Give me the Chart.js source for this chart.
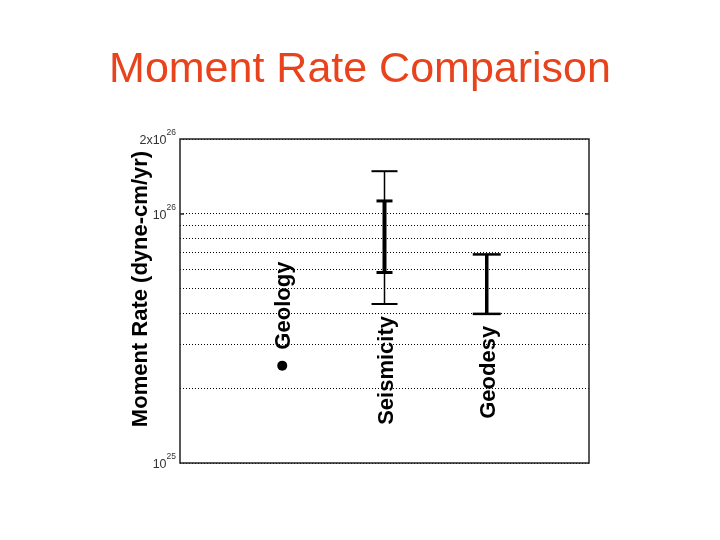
<!DOCTYPE html>
<html>
<head>
<meta charset="utf-8">
<script src="https://cdn.jsdelivr.net/npm/chart.js@4"></script>
<style>
  html, body { margin: 0; padding: 0; background: #fff; }
  #wrap { width: 720px; height: 540px; }
</style>
</head>
<body>
<div id="wrap"><canvas id="rate-chart"></canvas></div>
<script>
// values (dyne-cm/yr)
const categories = ['Geology', 'Seismicity', 'Geodesy'];
const geologyRate = [2.46e25];
const seismicityOuter = [4.35e25, 1.485e26];
const seismicityInner = [5.82e25, 1.128e26];
const geodesyRange = [3.97e25, 6.88e25];

const tickValues = [1e25, 1e26, 2e26];
const tickMantissa = ['', '', '2x'];
const tickExponents = ['25', '26', '26'];

const FONT = '"Liberation Sans", Arial, sans-serif';

// title, frame, small inside ticks, y tick labels with superscripts, axis title, category labels
const decorPlugin = {
  id: 'decor',
  afterDatasetsDraw(chart) {
    const ctx = chart.ctx;
    const a = chart.chartArea;
    const y = chart.scales.y;
    const x = chart.scales.x;
    ctx.save();

    ctx.fillStyle = '#E8431C';
    ctx.font = '43px ' + FONT;
    ctx.textAlign = 'center';
    ctx.textBaseline = 'alphabetic';
    ctx.fillText('Moment Rate Comparison', chart.width / 2, 82);

    ctx.strokeStyle = '#222';
    ctx.lineWidth = 1.5;
    ctx.strokeRect(a.left, a.top, a.right - a.left, a.bottom - a.top);
    const py26 = y.getPixelForValue(1e26);
    ctx.beginPath();
    ctx.moveTo(a.left, py26); ctx.lineTo(a.left + 4, py26);
    ctx.moveTo(a.right, py26); ctx.lineTo(a.right - 4, py26);
    ctx.stroke();

    // tick labels
    ctx.fillStyle = '#333';
    for (let i = 0; i < tickValues.length; i++) {
      const py = y.getPixelForValue(tickValues[i]);
      const right = a.left - 4;
      ctx.font = '8.5px ' + FONT;
      ctx.textAlign = 'right';
      ctx.fillText(tickExponents[i], right, py - 4);
      const ew = ctx.measureText(tickExponents[i]).width;
      ctx.font = '12.5px ' + FONT;
      ctx.fillText(tickMantissa[i] + '10', right - ew, py + 5);
    }

    // y axis title
    ctx.fillStyle = '#000';
    ctx.font = 'bold 22px ' + FONT;
    ctx.save();
    ctx.translate(147, (a.top + a.bottom) / 2 - 12);
    ctx.rotate(-Math.PI / 2);
    ctx.textAlign = 'center';
    ctx.fillText('Moment Rate (dyne-cm/yr)', 0, 0);
    ctx.restore();

    // category labels, vertical, next to their marks
    const lows = [geologyRate[0], seismicityOuter[0], geodesyRange[0]];
    for (let i = 0; i < categories.length; i++) {
      const px = x.getPixelForValue(i + 1);
      const pyLow = y.getPixelForValue(lows[i]);
      ctx.save();
      if (i === 0) {
        ctx.translate(px + 8, pyLow - 16);
        ctx.rotate(-Math.PI / 2);
        ctx.textAlign = 'left';
      } else {
        ctx.translate(px + 8, pyLow + 12);
        ctx.rotate(-Math.PI / 2);
        ctx.textAlign = 'right';
      }
      ctx.fillText(categories[i], 0, 0);
      ctx.restore();
    }
    ctx.restore();
  }
};

function bar(xv, range, stem, capRadius, capWidth) {
  return {
    type: 'line',
    data: [{ x: xv, y: range[0] }, { x: xv, y: range[1] }],
    borderColor: '#000',
    borderWidth: stem,
    pointStyle: 'line',
    pointRadius: capRadius,
    pointHoverRadius: capRadius,
    pointBorderWidth: capWidth,
    pointBorderColor: '#000',
    fill: false,
    tension: 0
  };
}

const datasets = [
  Object.assign(bar(2, seismicityInner, 4, 8, 3), { order: 0 }),
  Object.assign(bar(2, seismicityOuter, 1.5, 13, 2), { order: 1 }),
  bar(3, geodesyRange, 3.5, 14, 2.5),
  {
    type: 'scatter',
    data: [{ x: 1, y: geologyRate[0] }],
    pointRadius: 5,
    pointBackgroundColor: '#000',
    pointBorderColor: '#000',
    pointBorderWidth: 0
  }
];

new Chart(document.getElementById('rate-chart'), {
  type: 'line',
  data: { datasets: datasets },
  options: {
    responsive: true,
    maintainAspectRatio: false,
    animation: false,
    layout: { padding: { left: 180, right: 131, top: 139, bottom: 77 } },
    plugins: {
      legend: { display: false },
      tooltip: { enabled: false },
      title: { display: false }
    },
    scales: {
      x: { type: 'linear', min: 0, max: 4, display: false },
      y: {
        type: 'logarithmic',
        min: 1e25,
        max: 2e26,
        // grid only at 2..9 x 10^25 and 10^26, nothing in the top decade
        afterBuildTicks: (scale) => {
          scale.ticks = scale.ticks.filter(t => t.value <= 1e26 || t.value >= 2e26);
        },
        ticks: { display: false },
        grid: { color: '#000', lineWidth: 1, drawTicks: false },
        border: { display: false, dash: [1, 2] }
      }
    }
  },
  plugins: [decorPlugin]
});
</script>
</body>
</html>
